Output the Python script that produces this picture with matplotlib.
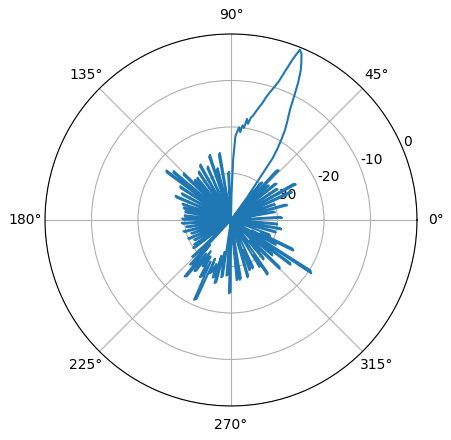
import numpy as np
import matplotlib
matplotlib.use("Agg")
import matplotlib.pyplot as plt

# angle (degrees) and gain (dB)
angle_deg = [
    0, 2.4, 3.6, 6.5, 10.1, 11.3, 13, 14.7, 15.9, 17.7, 19.4, 20.6, 22.3, 24.4, 25.6,
    27.3, 28.8, 30, 31.8, 33.4, 34.6, 36.5, 38.4, 39.6, 41, 42.4, 43.6, 45, 46.2, 47.4,
    49, 50.4, 51.6, 53.3,
    54.5, 56, 57, 58, 59, 60, 61, 62, 63, 64, 65, 66, 67, 68, 69, 70, 71, 72, 73, 74,
    75, 76, 77, 78, 79, 80, 81, 82, 83, 84, 85, 86, 87, 88, 89,
    90.5, 92.4, 93.6, 95.5, 99.4, 100.6, 102.5, 104.4, 105.6, 107, 107.9, 109.1, 111.5,
    113.4, 114.6, 116.5, 118.8, 120, 121.5, 123.4, 124.6, 126.5, 128.4, 129.6, 131,
    132, 133, 135, 135.2, 136.4, 138.8, 139.6, 140.6, 141.7, 142.5, 143.5, 145.5,
    146.4, 147.6, 150, 151.4, 152.6, 154.5, 156.4, 157.6, 159.5, 161.4, 162.6, 164,
    165.4, 166.6, 168, 169.4, 170.6, 172.5, 174.4, 175.6, 177, 178.4, 179.6, 181.8,
    183.4, 184.6, 186.5, 188.4, 189.6, 191.5, 193.4, 194.6, 196.5, 198.4, 199.6, 201.5,
    203.4, 204.6, 206.5, 208.4, 209.6, 211.5, 213.4, 214.6, 215.5, 216.4, 217.6, 222,
    223.4, 224.6, 226, 227.4, 228.6, 230, 230.6, 231.8, 233.5, 234.4, 235.6, 237,
    238.4, 239.6, 240.7, 241.4, 242.6, 244, 245.2, 246.4, 247.5, 248.4, 249.6, 251.5,
    252.4, 253.6, 255, 255.4, 256.6, 258.5, 260.4, 261.6, 263.5, 265.4, 266.6, 267.5,
    268.4, 269.6, 273.5, 275.4, 276.6, 277.8, 278.4, 279.6, 284, 286, 287.2, 288.6,
    290.2, 291.4, 292.3, 294, 295.2, 298, 301.2, 302.4, 303, 303.6, 304.8, 308,
    309.4, 310.6, 313, 314.8, 316, 318.2, 319.4, 320.6, 322, 323, 324, 325.5,
    326.4, 327.6, 329.5, 330.9, 332.1, 333.1, 333.8, 335, 336.2, 337.2, 339.4, 342.5,
    344.4, 345.6, 347.5, 349.4, 350.6, 352.5, 354.4, 355.6, 358, 360,
]
gain_db = [
    -39.5, -29, -29.5, -40, -30.4, -30.8, -39.5, -27.5, -28, -40, -30, -30.5, -39.5, -25.6, -26,
    -40, -24.1, -24.5, -39.5, -28, -28.4, -40, -27.5, -27.8, -39.5, -29, -29.3, -40, -25.2, -25.6,
    -39.5, -29.5, -30, -39.5,
    -34, -24, -21.5, -19.5, -17.5, -16, -14.5, -12.8, -10, -7, -4.5, -2.8, -1.2, -0.5, -3, -6, -8.5, -10, -11.2, -12.5,
    -14, -15, -16, -17, -17.6, -19, -18, -20, -19.5, -21, -20, -21, -22, -27, -35,
    -40, -29.6, -30, -39.5, -25.4, -25.8, -40, -28.5, -28.8, -39.5, -25.3, -25.6, -40,
    -27.5, -27.8, -39.5, -26.4, -26.7, -40, -27.5, -27.8, -39.5, -28.4, -28.6, -40,
    -28.4, -28.7, -39.5, -25.7, -26, -40, -23.8, -24, -39, -22.5, -22.8, -40,
    -26.9, -27.2, -39.5, -28, -28.3, -40, -27, -27.3, -39.5, -29, -29.3, -40,
    -29.5, -29.8, -39.5, -30, -30.3, -40, -30, -30.2, -39.5, -29.5, -29.8, -40,
    -29.4, -29.7, -39.5, -30.3, -30.6, -40, -29.5, -29.8, -39.5, -31, -31.3, -40,
    -30, -30.3, -39.5, -31, -31.2, -40, -30.5, -30.8, -39.5, -29.9, -30.2, -40,
    -28.5, -28.8, -39.5, -27, -27.3, -33, -24.3, -24.6, -31, -26.5, -26.8, -32,
    -28.3, -28.6, -31, -26, -26.3, -30, -21.1, -21.5, -31, -27.7, -28, -30,
    -27, -27.3, -32, -26, -26.3, -33, -27.5, -27.8, -40, -28, -28.3, -39.5,
    -24.2, -24.5, -40, -27, -27.3, -39.5, -27, -27.3, -40, -27.2, -27.5, -39.5,
    -28.5, -28.8, -33, -28.6, -28.9, -39.5, -28.2, -28.5, -31, -25.9, -26.2, -39.5,
    -29, -29.3, -34, -25.2, -25.5, -39.5, -28.3, -28.6, -40, -24, -24.3, -39,
    -19.3, -19.8, -39.5, -29, -29.3, -35, -25.1, -25.4, -33, -30.9, -31.2, -40,
    -30, -30.3, -39.5, -29, -29.3, -40, -30, -30.3, -39.5, -39.5,
]

theta = np.deg2rad(angle_deg)

fig = plt.figure(figsize=(4.51, 4.40), dpi=100)
ax = fig.add_axes([0.0998, 0.0773, 0.8248, 0.8455], projection='polar')
ax.plot(theta, gain_db, color='#1f77b4', linewidth=1.5)
ax.set_rlim(-40, 0)
ax.set_yticks([-30, -20, -10, 0])
ax.set_yticklabels(['-30', '-20', '-10', '0'])
ax.grid(True)
fig.savefig('out.png', dpi=100)
